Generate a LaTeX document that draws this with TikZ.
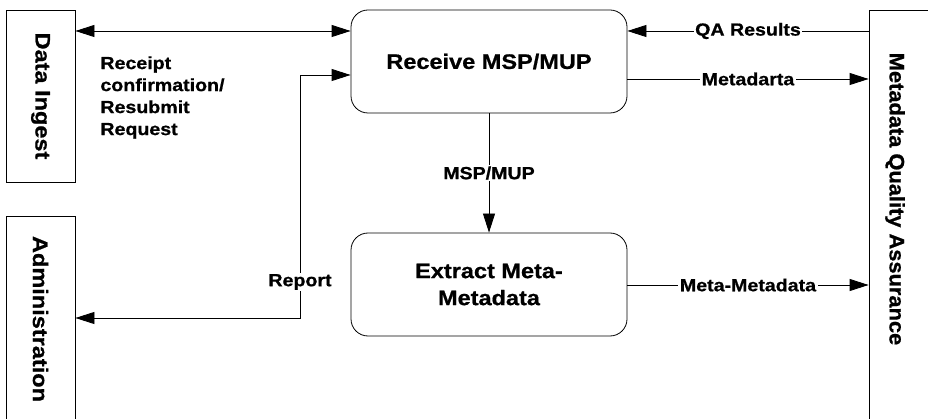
\documentclass[tikz,border=0pt]{standalone}
\usepackage{fontspec}
\setmainfont{Liberation Sans}[FakeStretch=1.12,FakeBold=0.8]
\newfontfamily\mqafont{Liberation Sans}[FakeStretch=1.04,FakeBold=0.8]
\usetikzlibrary{arrows.meta}
\begin{document}
\begin{tikzpicture}[x=1pt,y=-1pt,
  line width=0.8pt,
  tipstyle/.style={-{Triangle[length=19pt,width=12pt]}},
  bothtips/.style={{Triangle[length=19pt,width=12pt]}-{Triangle[length=19pt,width=12pt]}},
  proc/.style={draw, rounded corners=17pt, minimum width=276pt, minimum height=103pt,
    align=center, inner sep=0pt, font=\fontsize{21}{27}\selectfont\bfseries},
  sidebox/.style={draw, inner sep=0pt, font=\fontsize{21}{25}\selectfont\bfseries},
  lbl/.style={fill=white, inner sep=1.5pt, font=\fontsize{17.5}{22}\selectfont\bfseries},
]
\useasboundingbox (0,0) rectangle (928,419);

% external entities
\node[sidebox, minimum width=69pt, minimum height=172pt] (di) at (40.5,96) {\rotatebox{-90}{Data Ingest}};
\node[sidebox, minimum width=69pt, minimum height=206pt] (adm) at (40.5,319) {\rotatebox{-90}{Administration}};
\node[sidebox, minimum width=71pt, minimum height=430pt] (mqa) at (904.5,225) {};
\node[inner sep=0pt, font=\fontsize{21}{25}\selectfont\mqafont\bfseries] (mqat) at (895,199) {\rotatebox{-90}{Metadata Quality Assurance}};

% processes
\node[proc] (recv) at (489,61.5) {Receive MSP/MUP};
\node[proc] (extr) at (489,284.5) {Extract Meta-\\Metadata};

% connectors
\draw[bothtips] (di.east |- 0,31) -- (recv.west |- 0,31);
\node[anchor=north west, align=left, inner sep=0pt, font=\fontsize{17.5}{22}\selectfont\bfseries] (rc) at (100,56)
  {Receipt\\confirmation/\\Resubmit\\Request};

\coordinate (rjtop) at (300,75);
\coordinate (rjbot) at (300,318);
\draw[bothtips] (recv.west |- rjtop) -- (rjtop) -- (rjbot) -- (adm.east |- rjbot);
\node[lbl] (rep) at (300,282) {Report};

\draw[tipstyle] (recv.south) -- (extr.north) node[lbl, midway] (msp) {MSP/MUP};

\draw[tipstyle] (mqa.west |- 0,31) -- (recv.east |- 0,31) node[lbl, midway] (qa) {QA Results};
\draw[tipstyle] (recv.east |- 0,79) -- (mqa.west |- 0,79) node[lbl, midway] (md) {Metadarta};
\draw[tipstyle] (extr.east |- 0,285) -- (mqa.west |- 0,285) node[lbl, midway] (mm) {Meta-Metadata};
\end{tikzpicture}
\end{document}
